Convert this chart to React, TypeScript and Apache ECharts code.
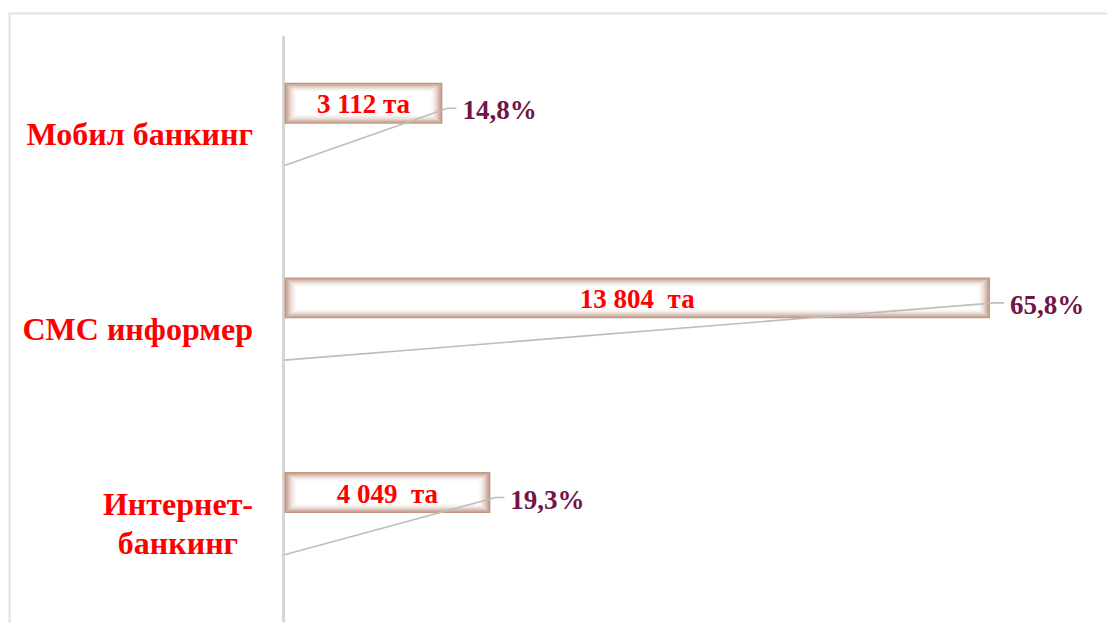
import React, { useEffect, useRef } from "react";
import * as echarts from "echarts";

const categories = ["Мобил банкинг", "СМС информер", "Интернет-\nбанкинг"];
const counts = [3112, 13804, 4049];
const countLabels = ["3 112 та", "13 804  та", "4 049  та"];
const shares = [14.8, 65.8, 19.3];

const FONT = "'Liberation Serif', serif";
const glowColors = ["#c09884", "#cbab9b", "#d8bfb2", "#e4d2c8", "#eee2db", "#f5eeea", "#faf7f5", "#ffffff"];

export default function App() {
  const ref = useRef<HTMLDivElement>(null);
  useEffect(() => {
    if (!ref.current) return;
    const chart = echarts.init(ref.current, null, { renderer: "svg" });
    const data = counts.map((v, i) => [v, i]);
    chart.setOption({
      animation: false,
      backgroundColor: "#ffffff",
      graphic: [
        {
          type: "rect",
          shape: { x: 9.5, y: 13.5, width: 1300, height: 800 },
          style: { fill: "none", stroke: "#e2e2e2", lineWidth: 2 },
          silent: true,
        },
      ],
      grid: { left: 283, right: 107, top: 37, bottom: 2 },
      xAxis: { type: "value", min: 0, max: 14000, show: false },
      yAxis: {
        type: "category",
        inverse: true,
        data: categories,
        axisLine: { show: true, lineStyle: { color: "#d6d6d6", width: 3 } },
        axisTick: { show: false },
        splitLine: { show: false },
        axisLabel: {
          margin: 30,
          color: "#ff0000",
          fontFamily: FONT,
          fontWeight: "bold",
          fontSize: 32,
          lineHeight: 39,
          formatter: (v: string) =>
            v
              .split("\n")
              .map((s) => "{c|" + s + "}")
              .join("\n"),
          rich: {
            c: {
              align: "center",
              color: "#ff0000",
              fontFamily: FONT,
              fontWeight: "bold",
              fontSize: 32,
              lineHeight: 39,
            },
          },
        },
      },
      series: [
        {
          type: "custom",
          data,
          encode: { x: 0, y: 1 },
          renderItem: (params: any, api: any) => {
            const val = api.value(0);
            const idx = api.value(1);
            const start = api.coord([0, idx]);
            const end = api.coord([val, idx]);
            const band = api.size([0, 1])[1];
            const off = band * 0.16;
            const h = band * 0.21;
            const cy = start[1] - off;
            const x0 = start[0] + 1.5;
            const w = end[0] - x0;
            const y0 = cy - h / 2;
            const children: any[] = [];
            glowColors.forEach((c, k) => {
              const ins = k * 1.25;
              const insL = k * 1.6;
              children.push({
                type: "rect",
                shape: { x: x0 + insL, y: y0 + ins, width: Math.max(0, w - insL * 2), height: Math.max(0, h - ins * 2) },
                style: { fill: c },
              });
            });
            children.push({
              type: "polyline",
              shape: {
                points: [
                  [start[0] + 1.5, start[1] + off],
                  [end[0] + 5, cy + 5],
                  [end[0] + 14, cy + 5],
                ],
              },
              style: { stroke: "#bdbdbd", lineWidth: 1.6, fill: "none" },
            });
            children.push({
              type: "text",
              x: x0 + w / 2,
              y: cy + 1,
              style: {
                text: countLabels[idx],
                fill: "#ff0000",
                font: "bold 27px " + FONT,
                align: "center",
                verticalAlign: "middle",
              },
            });
            children.push({
              type: "text",
              x: end[0] + 20,
              y: cy + 7,
              style: {
                text: shares[idx].toFixed(1).replace(".", ",") + "%",
                fill: "#731447",
                font: "bold 27px " + FONT,
                align: "left",
                verticalAlign: "middle",
              },
            });
            return { type: "group", children };
          },
        },
      ],
    });
    return () => chart.dispose();
  }, []);
  return (
    <div
      ref={ref}
      style={{ position: "fixed", left: 0, top: 0, width: 1107, height: 623 }}
    />
  );
}
